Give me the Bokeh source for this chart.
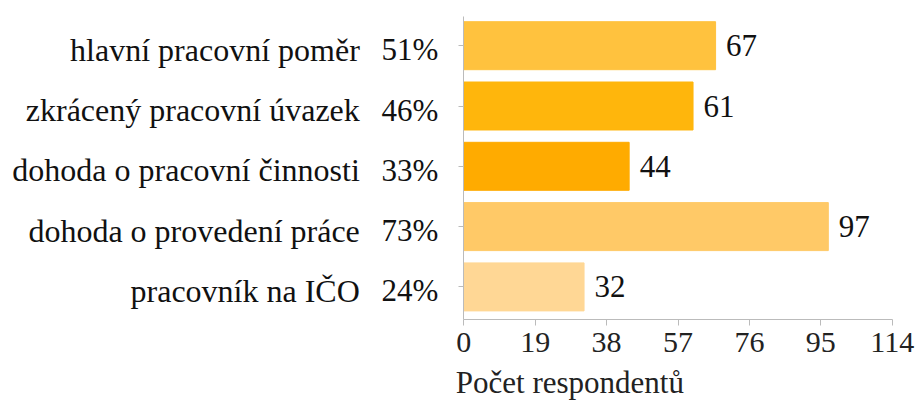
from bokeh.plotting import figure
from bokeh.models import ColumnDataSource, LabelSet, Label, Range1d, FixedTicker, LinearAxis
from bokeh.core.properties import value
from bokeh.embed import file_html
from bokeh.resources import INLINE

categories = ["hlavní pracovní poměr", "zkrácený pracovní úvazek", "dohoda o pracovní činnosti",
              "dohoda o provedení práce", "pracovník na IČO"]
percents = ["51%", "46%", "33%", "73%", "24%"]
counts = [67, 61, 44, 97, 32]
x_ticks = [0, 19, 38, 57, 76, 95, 114]
axis_title = "Počet respondentů"

bar_colors = ["#FFC23E", "#FFB60C", "#FFAB00", "#FFC967", "#FFD795"]
FONT = "Liberation Serif"

W, H = 922, 401
PX_X = 3.758      # pixels per count unit
X0 = 463.3        # pixel of x = 0
PX_Y = 60.3       # pixels per category slot
Y0 = 45.2         # pixel of first category centre
LEFT_SHIFT = 4 / PX_Y   # left-hand labels sit slightly below bar centres

pos = list(range(len(categories)))
src = ColumnDataSource(dict(y=pos, y_lab=[v + LEFT_SHIFT for v in pos],
                            cat=categories, pct=percents, cnt=counts,
                            cnt_txt=[str(c) for c in counts], color=bar_colors,
                            zero=[0] * len(pos)))

x_range = Range1d(-X0 / PX_X, (W - X0) / PX_X)
y_range = Range1d((H - Y0) / PX_Y, -Y0 / PX_Y)
y_axis_bottom = (319 - Y0) / PX_Y
y_axis_top = (15.7 - Y0) / PX_Y

p = figure(width=W, height=H, output_backend="svg", toolbar_location=None,
           x_range=x_range, y_range=y_range,
           x_axis_location=None, y_axis_location=None,
           min_border=0, min_border_left=0, min_border_right=0,
           min_border_top=0, min_border_bottom=0)
p.outline_line_color = None
p.grid.visible = False

p.hbar(y="y", left=0, right="cnt", height=0.796, color="color", source=src)

xaxis = LinearAxis(fixed_location=y_axis_bottom, bounds=(0, 114),
                   ticker=FixedTicker(ticks=x_ticks))
xaxis.axis_line_color = "#BBBBBB"
xaxis.major_tick_line_color = "#BBBBBB"
xaxis.major_tick_out = 6
xaxis.major_tick_in = 0
xaxis.minor_tick_line_color = None
xaxis.major_label_text_font = FONT
xaxis.major_label_text_font_size = "30px"
xaxis.major_label_text_color = "#222222"
xaxis.major_label_standoff = 7
p.add_layout(xaxis, "below")

yaxis = LinearAxis(fixed_location=0, bounds=(y_axis_top, y_axis_bottom),
                   ticker=FixedTicker(ticks=pos))
yaxis.axis_line_color = "#BBBBBB"
yaxis.major_tick_line_color = "#BBBBBB"
yaxis.major_tick_out = 5
yaxis.major_tick_in = 0
yaxis.minor_tick_line_color = None
yaxis.major_label_text_font_size = "0px"
yaxis.major_label_text_color = None
p.add_layout(yaxis, "left")

common = dict(text_font=value(FONT), text_color="#111111", text_baseline="middle")
p.add_layout(LabelSet(x="zero", y="y_lab", text="cat", source=src, x_offset=-104,
                      text_align="right", text_font_size="32px", **common))
p.add_layout(LabelSet(x="zero", y="y_lab", text="pct", source=src, x_offset=-25.5,
                      text_align="right", text_font_size="31px", **common))
p.add_layout(LabelSet(x="cnt", y="y", text="cnt_txt", source=src, x_offset=10.5,
                      text_align="left", text_font_size="31px", **common))

p.add_layout(Label(x=0, y=(382 - Y0) / PX_Y, x_offset=-8, text=axis_title,
                   text_font=FONT, text_font_size="31px", text_color="#222222",
                   text_align="left", text_baseline="middle"))

open("out.html", "w").write(file_html(p, INLINE))
